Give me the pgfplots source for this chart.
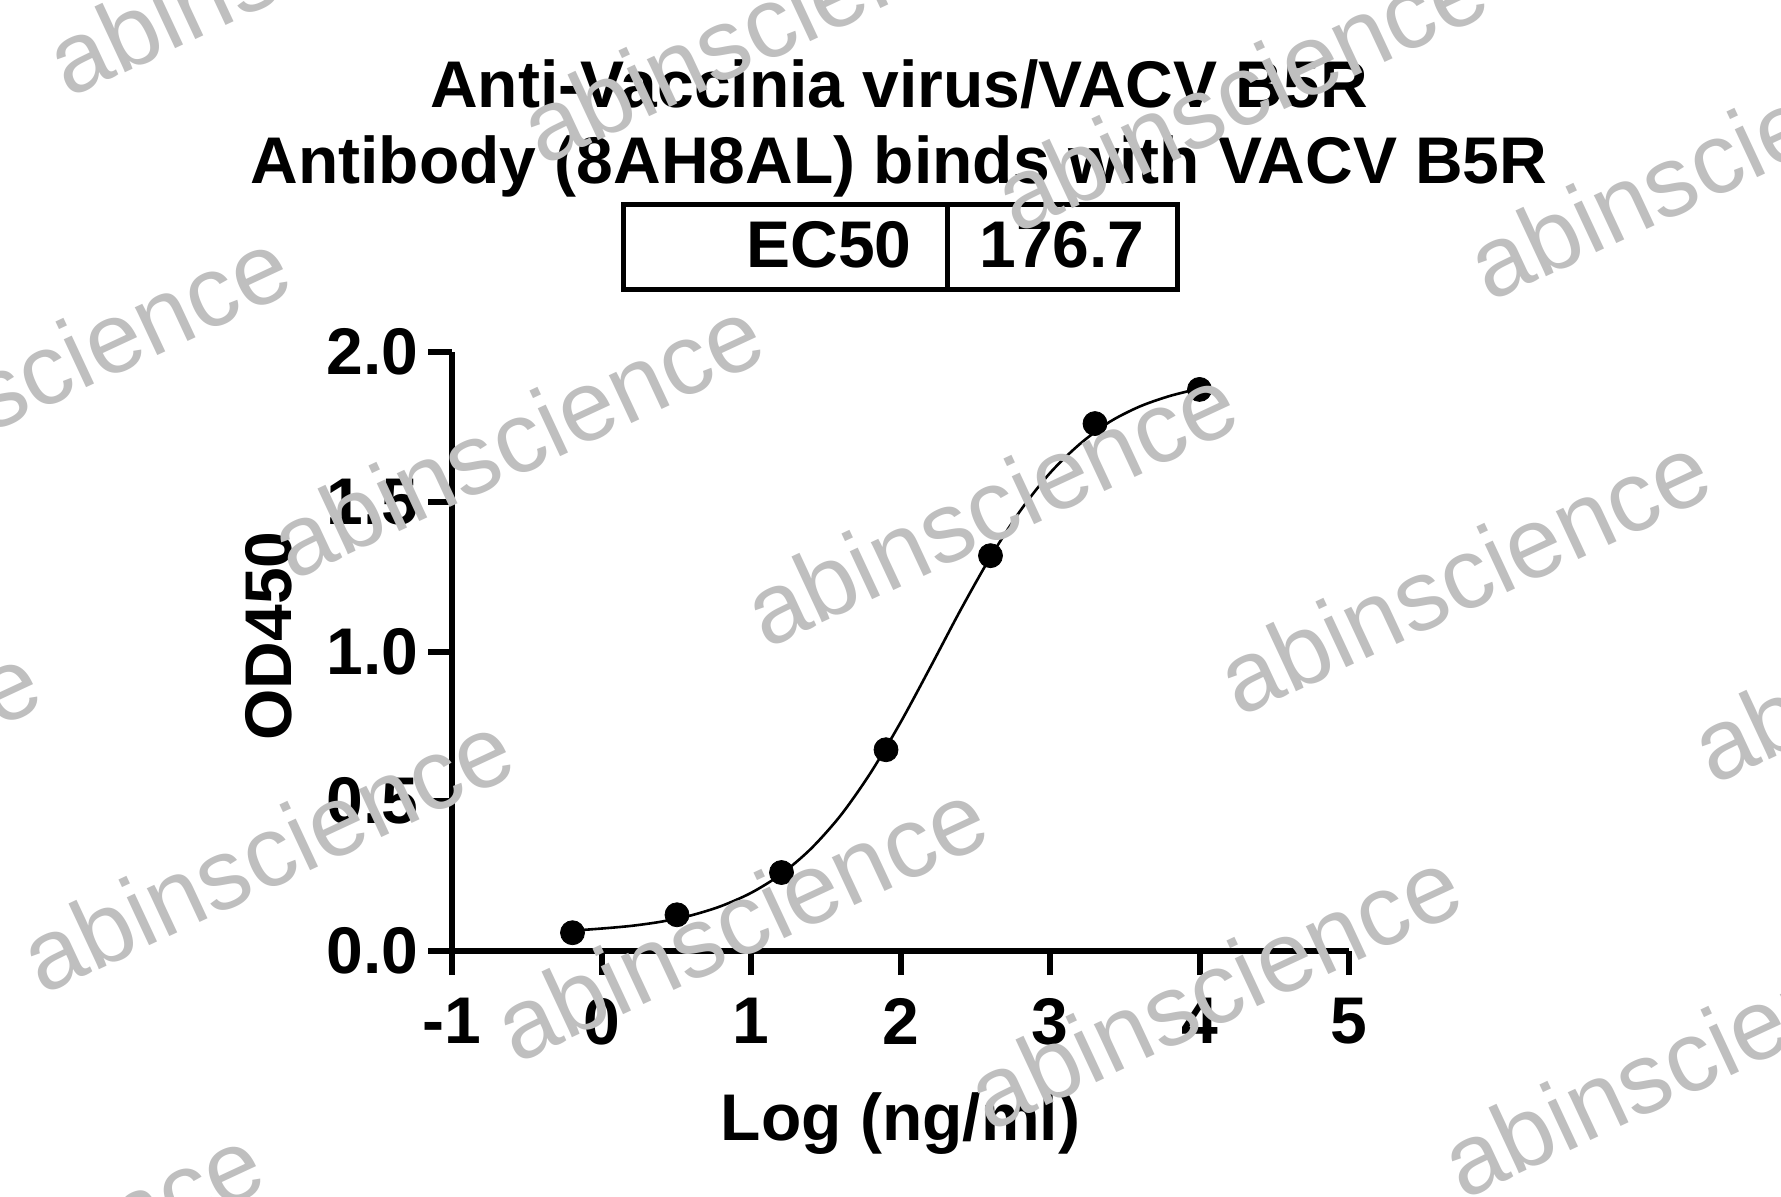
\documentclass[border=0pt]{standalone}
\usepackage{fontspec}
\setmainfont{Liberation Sans}
\usepackage{pgfplots}
\pgfplotsset{compat=1.18}
\pgfplotstableread{
x y
-0.194 0.061
0.505 0.121
1.204 0.262
1.903 0.672
2.602 1.320
3.301 1.761
4.000 1.875
}\datapts
\pgfplotstableread{
x y
-0.194 0.068
0.0 0.075
0.2 0.084
0.4 0.098
0.6 0.119
0.8 0.150
1.0 0.194
1.2 0.256
1.4 0.341
1.6 0.453
1.8 0.595
2.0 0.763
2.2 0.948
2.4 1.137
2.6 1.314
2.8 1.469
3.0 1.596
3.2 1.693
3.4 1.767
3.6 1.818
3.8 1.853
4.0 1.878
}\fitcurve
\newcommand\bigfont{\fontsize{33}{40}\selectfont\bfseries}
\begin{document}
\begin{tikzpicture}
\useasboundingbox (0,0) rectangle (890.5pt,-598.5pt);
\begin{axis}[
  at={(226pt,-475.5pt)}, anchor=south west,
  width=448.5pt, height=299.5pt, scale only axis,
  xmin=-1, xmax=5, ymin=0, ymax=2,
  axis x line=bottom, axis y line=left,
  axis line style={line width=3pt, -},
  tick align=outside, major tick length=12pt,
  tick style={line width=3pt, black},
  xtick={-1,0,1,2,3,4,5}, ytick={0,0.5,1,1.5,2},
  /pgf/number format/assume math mode=true,
  ticklabel style={font=\bigfont},
  yticklabel style={/pgf/number format/fixed, /pgf/number format/fixed zerofill, /pgf/number format/precision=1, inner sep=0pt, xshift=-4.5pt},
  xticklabel style={inner sep=0pt, yshift=-11.5pt},
  label style={font=\bigfont},
  xlabel={Log (ng/ml)},
  xlabel style={at={(axis description cs:0.5,-0.3155)}, anchor=base, inner sep=0pt},
  ylabel={OD450},
  ylabel style={at={(axis description cs:-0.204,0.526)}, anchor=center, inner sep=0pt},
  clip=false,
]
\addplot[black, line width=1.3pt, smooth, no marks] table {\fitcurve};
\addplot[black, only marks, mark=*, mark size=6pt] table {\datapts};
\end{axis}
\begin{scope}[x=0.5pt, y=-0.5pt]
\node[anchor=base, font=\bigfont, inner sep=0pt] at (899,108) {Anti-Vaccinia virus/VACV B5R};
\node[anchor=base, font=\bigfont, inner sep=0pt] at (899,184) {Antibody (8AH8AL) binds with VACV B5R};
\draw[line width=2.5pt] (623.6,204.5) rectangle (1177.9,289.6);
\draw[line width=2.5pt] (947.3,204.5) -- (947.3,289.6);
\node[anchor=base east, font=\bigfont, inner sep=0pt] at (912,268) {EC50};
\node[anchor=base, font=\bigfont, inner sep=0pt] at (1062,268) {176.7};
\foreach \wx/\wy in {516.8/437.3, 990.4/505.4, 1464.0/573.6, 1937.7/641.7, 43.2/369.1, 766.7/22.7, 1240.3/90.9, 1713.9/159.0, 293.0/-45.4, 266.9/851.9, 740.5/920.0, 1214.2/988.1, 1687.8/1056.3, -206.7/783.7, 17.0/1266.4, 490.7/1334.6}
  \node[rotate=25, text=black!25, font=\fontsize{50}{54}\selectfont, inner sep=0pt] at (\wx,\wy) {abinscience};
\end{scope}
\end{tikzpicture}
\end{document}
